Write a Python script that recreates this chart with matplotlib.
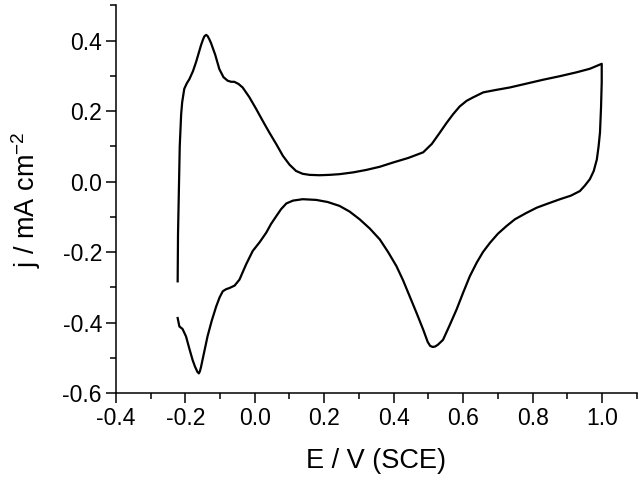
import numpy as np
import matplotlib
matplotlib.use("Agg")
import matplotlib.pyplot as plt
from matplotlib.ticker import MultipleLocator

## Cyclic voltammogram (E in V vs SCE, j in mA cm-2)
# anodic sweep, from the lower end of the gap at -0.22 V up to 1.0 V
E_anodic = [-0.222, -0.221, -0.219, -0.216, -0.212, -0.209, -0.203, -0.196, -0.188,
            -0.178, -0.169, -0.162, -0.155, -0.149, -0.145, -0.140, -0.136, -0.131,
            -0.126, -0.114, -0.102, -0.090, -0.078, -0.068, -0.059, -0.047, -0.035,
            -0.016, 0.004, 0.023, 0.042, 0.062, 0.081, 0.100, 0.119, 0.138, 0.158,
            0.187, 0.215, 0.244, 0.283, 0.321, 0.360, 0.398, 0.442, 0.485, 0.510,
            0.533, 0.552, 0.571, 0.590, 0.610, 0.629, 0.658, 0.695, 0.735, 0.783,
            0.831, 0.879, 0.927, 0.965, 0.999]
j_anodic = [-0.283, -0.150, -0.050, 0.100, 0.190, 0.225, 0.263, 0.278, 0.291,
            0.313, 0.339, 0.362, 0.386, 0.403, 0.412, 0.416, 0.413, 0.404,
            0.393, 0.360, 0.319, 0.296, 0.286, 0.283, 0.283, 0.277, 0.267,
            0.240, 0.206, 0.172, 0.139, 0.106, 0.073, 0.048, 0.030, 0.022, 0.019,
            0.018, 0.019, 0.021, 0.026, 0.033, 0.042, 0.054, 0.067, 0.083, 0.107,
            0.139, 0.166, 0.191, 0.213, 0.229, 0.239, 0.253, 0.260, 0.267, 0.278,
            0.289, 0.299, 0.310, 0.320, 0.334]

# cathodic sweep, from 1.0 V back to -0.22 V
E_cathodic = [0.999, 0.999, 0.997, 0.994, 0.990, 0.985, 0.976, 0.965, 0.950, 0.936,
              0.910, 0.879, 0.845, 0.812, 0.780, 0.749, 0.725, 0.700, 0.677, 0.657,
              0.639, 0.619, 0.600, 0.581, 0.560, 0.542, 0.527, 0.519, 0.512, 0.505,
              0.498, 0.485, 0.466, 0.446, 0.427, 0.408, 0.384, 0.360, 0.331, 0.302,
              0.273, 0.244, 0.210, 0.177, 0.138, 0.110, 0.091, 0.076, 0.062, 0.047,
              0.033, 0.014, -0.006, -0.025, -0.044, -0.058, -0.073, -0.082, -0.092,
              -0.101, -0.111, -0.124, -0.136, -0.148, -0.155, -0.158, -0.161, -0.165,
              -0.172, -0.179, -0.188, -0.198, -0.208, -0.217, -0.222]
j_cathodic = [0.334, 0.282, 0.210, 0.139, 0.100, 0.063, 0.030, 0.007, -0.012, -0.027,
              -0.040, -0.050, -0.062, -0.074, -0.090, -0.107, -0.126, -0.148, -0.174, -0.200,
              -0.230, -0.269, -0.315, -0.363, -0.410, -0.449, -0.463, -0.468, -0.469, -0.466,
              -0.455, -0.420, -0.373, -0.325, -0.280, -0.240, -0.200, -0.164, -0.133, -0.107,
              -0.085, -0.069, -0.058, -0.052, -0.050, -0.054, -0.062, -0.078, -0.098, -0.120,
              -0.145, -0.172, -0.197, -0.235, -0.278, -0.295, -0.302, -0.305, -0.311,
              -0.328, -0.354, -0.395, -0.439, -0.494, -0.527, -0.538, -0.544, -0.540,
              -0.525, -0.506, -0.475, -0.439, -0.418, -0.411, -0.387]

plt.rcParams['font.family'] = ['Liberation Sans', 'DejaVu Sans']
plt.rcParams['mathtext.default'] = 'regular'
plt.rcParams['axes.unicode_minus'] = False

fig = plt.figure(figsize=(6.4, 4.8), dpi=100)
ax = fig.add_axes([0.181, 0.181, 0.814, 0.808])

ax.plot(E_anodic + E_cathodic, j_anodic + j_cathodic, color='black', lw=1.6,
        solid_joinstyle='round')

ax.set_xlim(-0.4, 1.1)
ax.set_ylim(-0.6, 0.5)
ax.xaxis.set_major_locator(MultipleLocator(0.2))
ax.xaxis.set_minor_locator(MultipleLocator(0.1))
ax.yaxis.set_major_locator(MultipleLocator(0.2))
ax.yaxis.set_minor_locator(MultipleLocator(0.1))
ax.xaxis.set_major_formatter(plt.FormatStrFormatter('%.1f'))
ax.yaxis.set_major_formatter(plt.FormatStrFormatter('%.1f'))

# only left and bottom axis lines
ax.spines['top'].set_visible(False)
ax.spines['right'].set_visible(False)
for s in ['left', 'bottom']:
    ax.spines[s].set_linewidth(1.1)
ax.tick_params(which='major', direction='out', length=7, width=1.1, labelsize=16.5, pad=3)
ax.tick_params(which='minor', direction='out', length=4, width=1.1)

ax.set_xlabel('E / V (SCE)', fontsize=19.5, labelpad=13)
ax.set_ylabel('j / mA cm$^{-2}$', fontsize=19.5, labelpad=14)

fig.savefig('out.png', dpi=100)
